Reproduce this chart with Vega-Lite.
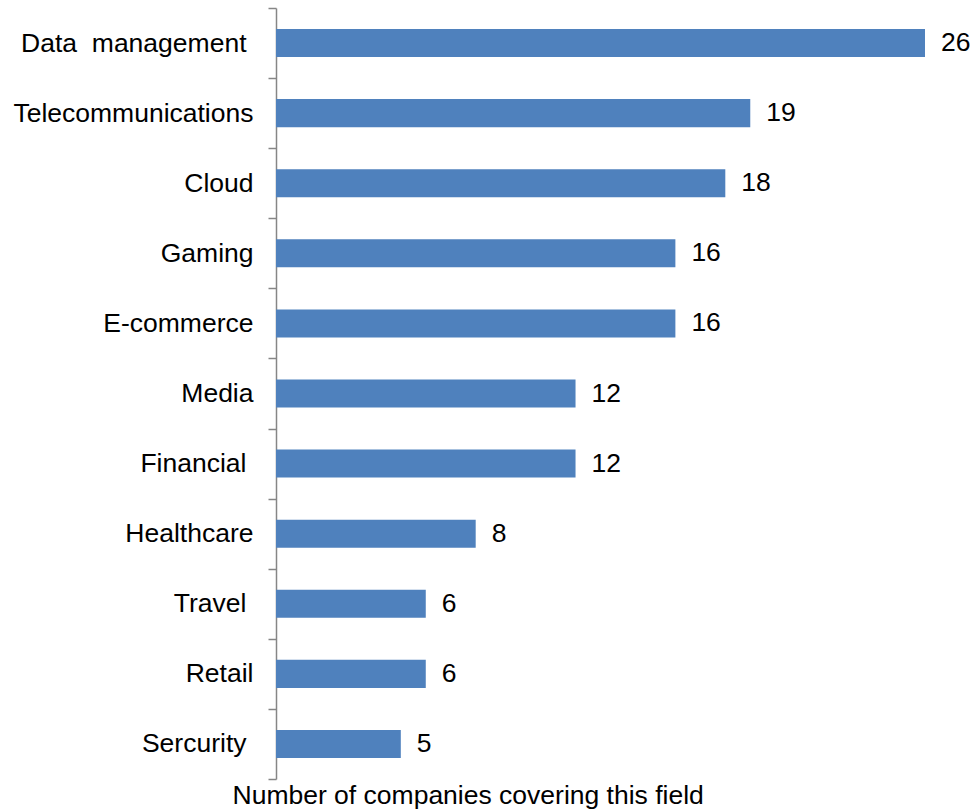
{
  "$schema": "https://vega.github.io/schema/vega-lite/v6.json",
  "width": 649,
  "height": 771,
  "padding": {"left": 276, "top": 8, "right": 50, "bottom": 33},
  "autosize": {"type": "none"},
  "background": "white",
  "config": {
    "view": {"stroke": null},
    "font": "Liberation Sans"
  },
  "data": {
    "values": [
      {"field": "Data\u00a0\u00a0management", "count": 26},
      {"field": "Telecommunications", "count": 19},
      {"field": "Cloud", "count": 18},
      {"field": "Gaming", "count": 16},
      {"field": "E-commerce", "count": 16},
      {"field": "Media", "count": 12},
      {"field": "Financial", "count": 12},
      {"field": "Healthcare", "count": 8},
      {"field": "Travel", "count": 6},
      {"field": "Retail", "count": 6},
      {"field": "Sercurity", "count": 5}
    ]
  },
  "encoding": {
    "y": {
      "field": "field",
      "type": "nominal",
      "sort": null,
      "scale": {"paddingInner": 0, "paddingOuter": 0},
      "axis": {
        "title": null,
        "tickBand": "extent",
        "domainColor": "#868686",
        "domainWidth": 1.5,
        "tickColor": "#868686",
        "tickWidth": 1.5,
        "tickSize": 8,
        "labelPadding": {
          "condition": {"test": "indexof(['Financial','Travel','Sercurity','Data\u00a0\u00a0management'], datum.value) >= 0", "value": 22},
          "value": 15
        },
        "labelFontSize": 26.5,
        "labelColor": "black",
        "labelFont": "Liberation Sans",
        "labelLimit": 400
      }
    },
    "x": {
      "field": "count",
      "type": "quantitative",
      "scale": {"domain": [0, 26], "nice": false},
      "axis": {
        "domain": false,
        "ticks": false,
        "labels": false,
        "grid": false,
        "title": "Number of companies covering this field",
        "titleFontSize": 26.5,
        "titleFontWeight": "normal",
        "titleColor": "black",
        "titleFont": "Liberation Sans",
        "titleAnchor": "start",
        "titleAlign": "left",
        "titleX": -44,
        "titlePadding": 3
      }
    }
  },
  "layer": [
    {
      "mark": {"type": "bar", "height": {"band": 0.4}, "color": "#4f81bd"}
    },
    {
      "mark": {"type": "text", "align": "left", "baseline": "middle", "dx": 16, "fontSize": 26.5, "color": "black"},
      "encoding": {"text": {"field": "count", "type": "quantitative"}}
    }
  ]
}
